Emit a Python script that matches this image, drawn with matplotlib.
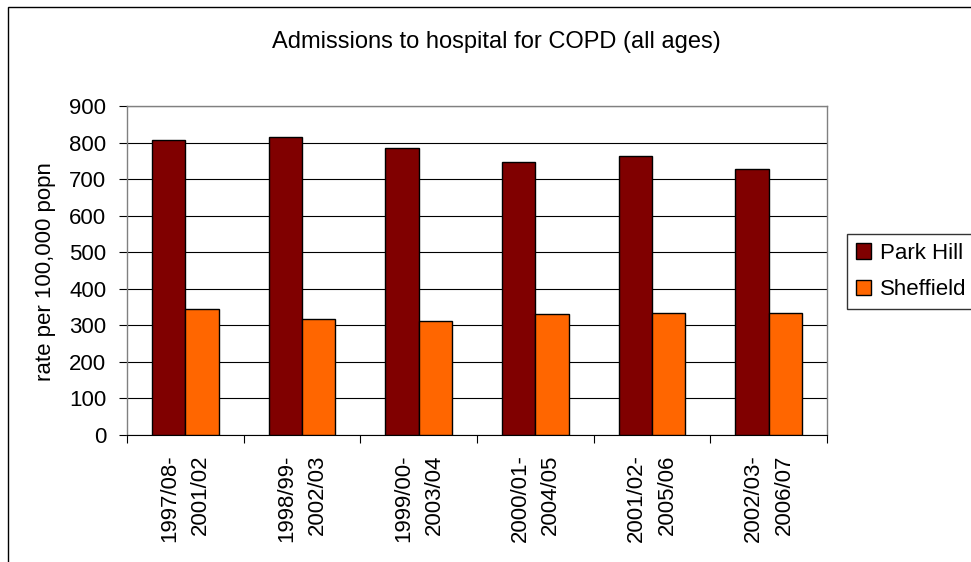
import numpy as np
import matplotlib
matplotlib.use("Agg")
import matplotlib.pyplot as plt
from matplotlib.patches import Rectangle

# Data
periods = ["1997/08-\n2001/02", "1998/99-\n2002/03", "1999/00-\n2003/04",
           "2000/01-\n2004/05", "2001/02-\n2005/06", "2002/03-\n2006/07"]
park_hill = [807, 816, 784, 746, 764, 728]
sheffield = [345, 317, 313, 332, 335, 335]

plt.rcParams['font.family'] = ['Liberation Sans', 'DejaVu Sans']
plt.rcParams['font.size'] = 16

W, H = 971, 562
fig = plt.figure(figsize=(W / 100, H / 100), dpi=100)
fig.patch.set_facecolor('white')

# plot area in pixel coordinates of the reference
left, right, top, bottom = 127, 827, 106, 435
ax = fig.add_axes([left / W, 1 - bottom / H, (right - left) / W, (bottom - top) / H])

x = np.arange(len(periods))
w = 1 / 3.5
ax.bar(x - w / 2, park_hill, w, color='#800000', edgecolor='black', linewidth=1,
       label='Park Hill', zorder=3)
ax.bar(x + w / 2, sheffield, w, color='#FF6600', edgecolor='black', linewidth=1,
       label='Sheffield', zorder=3)

ax.set_xlim(-0.5, len(periods) - 0.5)
ax.set_ylim(0, 900)
ax.set_yticks(range(0, 901, 100))
ax.yaxis.grid(True, color='black', linewidth=0.8, zorder=0)
ax.tick_params(axis='y', direction='out', length=6, width=0.8, pad=9, labelsize=16)

# category boundary ticks, labels at centres
ax.set_xticks(np.arange(len(periods) + 1) - 0.5)
ax.set_xticklabels([''] * (len(periods) + 1))
ax.tick_params(axis='x', which='major', direction='out', length=6, width=0.8)
ax.set_xticks(x, minor=True)
ax.set_xticklabels(periods, minor=True, rotation=90, ha='center', va='top',
                   multialignment='right', fontsize=16)
for t in ax.get_xticklabels(minor=True):
    t.set_linespacing(1.6)
ax.tick_params(axis='x', which='minor', length=0, pad=14)

for side in ['top', 'right', 'left']:
    ax.spines[side].set_color('#808080')
    ax.spines[side].set_linewidth(1)
ax.spines['bottom'].set_color('black')

fig.text(496 / W, 1 - 42 / H, 'Admissions to hospital for COPD (all ages)',
         ha='center', va='center', fontsize=17)
fig.text(46 / W, 1 - 272 / H, 'rate per 100,000 popn', rotation=90,
         ha='center', va='center', fontsize=16)

leg = fig.legend(loc='upper left', bbox_to_anchor=(847 / W, 1 - 234 / H),
                 borderaxespad=0, frameon=True, fancybox=False,
                 handlelength=0.7, handleheight=0.7, handletextpad=0.4,
                 borderpad=0.4, labelspacing=0.7, fontsize=16)
leg.get_frame().set_edgecolor('black')
leg.get_frame().set_linewidth(1)

# outer chart border
fig.patches.append(Rectangle((8 / W, -0.1), 1.2, 1 - 7 / H + 0.1, fill=False,
                             edgecolor='black', linewidth=1, transform=fig.transFigure))

fig.savefig('out.png', dpi=100)
